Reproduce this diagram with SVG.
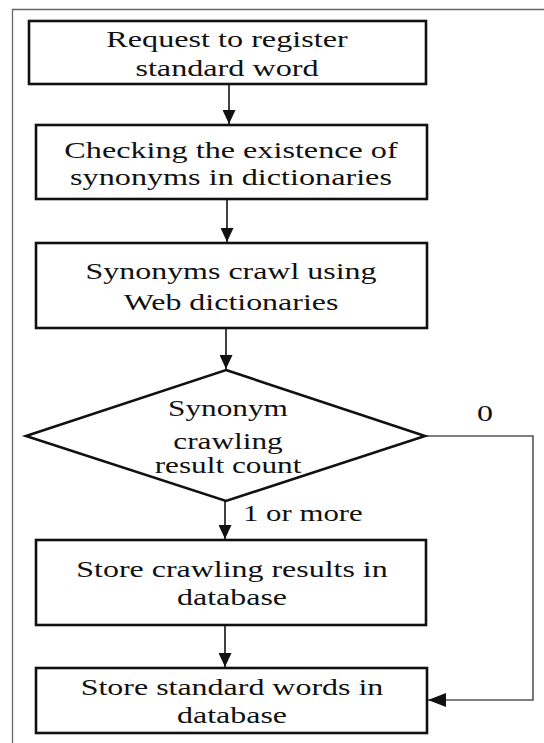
<svg xmlns="http://www.w3.org/2000/svg" width="544" height="743" viewBox="0 0 544 743">
<style>
.box{fill:#fff;stroke:#111;stroke-width:2.6}
.t{font-family:"Liberation Serif","Times New Roman",serif;font-size:23px;fill:#111;text-anchor:middle}
.lbl{font-family:"Liberation Serif","Times New Roman",serif;font-size:23px;fill:#111}
.arr{fill:none;stroke:#111;stroke-width:1.6}
.grey{fill:none;stroke:#555;stroke-width:1.6}
</style>
<defs>
<marker id="ah" markerUnits="userSpaceOnUse" markerWidth="15" markerHeight="13" refX="14" refY="6.5" orient="auto">
<path d="M0,0 L14,6.5 L0,13 z" fill="#111"/>
</marker>
<marker id="ah2" markerUnits="userSpaceOnUse" markerWidth="19" markerHeight="14" refX="18" refY="7" orient="auto">
<path d="M0,0 L18,7 L0,14 z" fill="#111"/>
</marker>
</defs>
<rect width="544" height="743" fill="#fff"/>
<path d="M12.5,743 V9.5 H544" fill="none" stroke="#666" stroke-width="1.3"/>
<g id="connectors">
<line class="arr" x1="229" y1="85" x2="229" y2="124" marker-end="url(#ah)"/>
<line class="arr" x1="227" y1="200" x2="227" y2="242" marker-end="url(#ah)"/>
<line class="arr" x1="226" y1="329" x2="226" y2="369" marker-end="url(#ah)"/>
<line class="arr" x1="225" y1="501" x2="225" y2="539" marker-end="url(#ah)"/>
<line class="arr" x1="225" y1="626" x2="225" y2="667" marker-end="url(#ah)"/>
<path class="grey" d="M425,436 H533 V700 H428" marker-end="url(#ah2)"/>
<text class="lbl" x="485" y="421.5" text-anchor="middle" transform="translate(485 0) scale(1.39 1) translate(-485 0)">0</text>
<text class="lbl" x="243" y="521" transform="translate(243 0) scale(1.34 1) translate(-243 0)">1 or more</text>
</g>
<g id="n1">
<rect class="box" x="29" y="21" width="397" height="63"/>
<g transform="translate(227 0) scale(1.4 1)">
<text class="t" x="0" y="47">Request to register</text>
<text class="t" x="0" y="76">standard word</text>
</g>
</g>
<g id="n2">
<rect class="box" x="36" y="125" width="391" height="74"/>
<g transform="translate(231 0) scale(1.4 1)">
<text class="t" x="0" y="158">Checking the existence of</text>
<text class="t" x="0" y="185">synonyms in dictionaries</text>
</g>
</g>
<g id="n3">
<rect class="box" x="36" y="243" width="391" height="85"/>
<g transform="translate(231 0) scale(1.39 1)">
<text class="t" x="0" y="279">Synonyms crawl using</text>
<text class="t" x="0" y="310">Web dictionaries</text>
</g>
</g>
<g id="n4">
<polygon class="box" points="226,370 425,436 226,501 26,436"/>
<g transform="translate(228 0) scale(1.36 1)">
<text class="t" x="0" y="416">Synonym</text>
<text class="t" x="0" y="449">crawling</text>
<text class="t" x="0" y="473">result count</text>
</g>
</g>
<g id="n5">
<rect class="box" x="36" y="540" width="390" height="85"/>
<g transform="translate(232 0) scale(1.39 1)">
<text class="t" x="0" y="577">Store crawling results in</text>
<text class="t" x="0" y="605">database</text>
</g>
</g>
<g id="n6">
<rect class="box" x="36" y="668" width="391" height="65"/>
<g transform="translate(232 0) scale(1.39 1)">
<text class="t" x="0" y="695">Store standard words in</text>
<text class="t" x="0" y="723">database</text>
</g>
</g>
</svg>
